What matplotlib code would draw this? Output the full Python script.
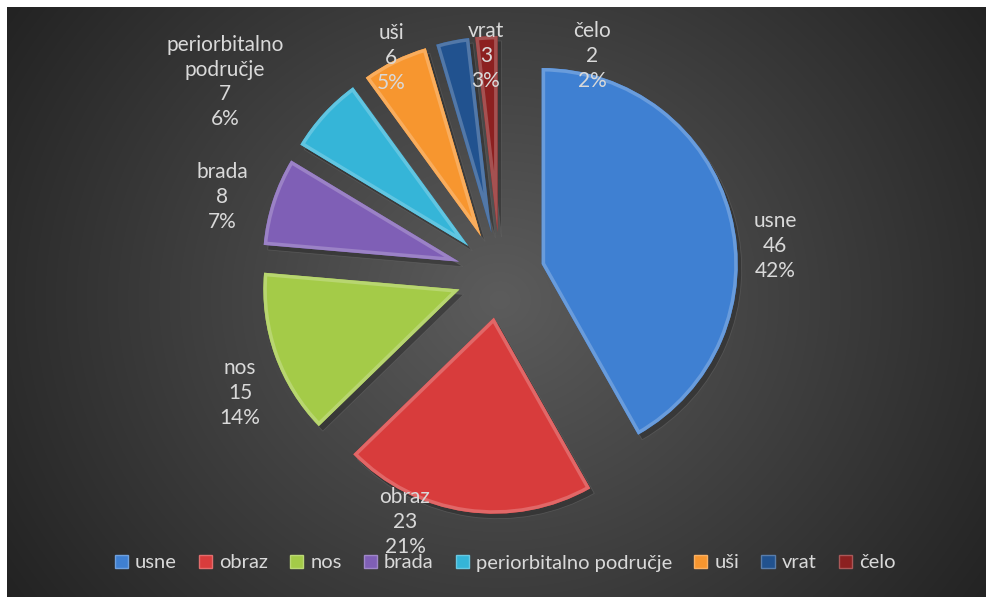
import numpy as np
import matplotlib.pyplot as plt
from matplotlib.patches import Patch, Wedge
import matplotlib.colors as mcolors

# podaci
categories = ['usne', 'obraz', 'nos', 'brada', 'periorbitalno područje', 'uši', 'vrat', 'čelo']
values = [46, 23, 15, 8, 7, 6, 3, 2]
colors = ['#3f80d2', '#d83c3c', '#a4cb48', '#7f5fb6', '#35b5d8', '#f7962f', '#21528f', '#8c2020']

# polozaj oznaka (piksel koordinate slike, y prema dolje)
label_pos = [(775, 246), (405, 522), (240, 393), (222, 197), (225, 82), (391, 58), (486, 56), (592, 56)]

W, H = 986, 597
plt.rcParams['font.family'] = ['Lato', 'DejaVu Sans']
txt_color = '#d9d9d9'


def tint(c, f):
    return tuple(min(1, x + (1 - x) * f) for x in mcolors.to_rgb(c))


fig = plt.figure(figsize=(W / 100, H / 100), dpi=100, facecolor='white')

# pozadina: radijalni gradijent (od x=7 i y=7 do ruba)
bg_ax = fig.add_axes([7 / W, 0, 1 - 7 / W, 1 - 7 / H], zorder=0)
xx, yy = np.meshgrid(np.linspace(7, W, 500), np.linspace(7, H, 300))
dist = np.sqrt((xx - 500) ** 2 + ((yy - 300) / 0.9) ** 2)
shade = 92 - 58 * np.clip(dist / 600, 0, 1)
bg = np.dstack([shade, shade, shade]) / 255.0
bg_ax.imshow(bg, aspect='auto', interpolation='bilinear')
bg_ax.axis('off')

ax = fig.add_axes([0, 0, 1, 1], zorder=1)
ax.patch.set_alpha(0)

cx, cy, R = 500, H - 275, 196
explode = [0.22 * R] * len(values)

wedges, _ = ax.pie(values, explode=explode, colors=colors, startangle=90,
                   counterclock=False, radius=R, center=(cx, cy))
for w in wedges:
    # sjena
    sh = Wedge((w.center[0] + 4, w.center[1] - 5), w.r, w.theta1, w.theta2,
               facecolor='#2a2a2a', edgecolor='#6a6a6a', linewidth=0.6, alpha=0.5, zorder=1)
    ax.add_patch(sh)
    w.set_zorder(2)
    w.set_edgecolor('none')
    base = w.get_facecolor()
    # "bevel" - svjetliji rub unutar isjecka
    rim = Wedge(w.center, w.r, w.theta1, w.theta2, facecolor='none',
                edgecolor=tint(base, 0.22), linewidth=5, zorder=3)
    ax.add_patch(rim)
    rim.set_clip_path(w)

total = sum(values)
for name, v, (px, py) in zip(categories, values, label_pos):
    pct = round(v / total * 100)
    ax.text(px, H - py, f"{name.replace(' ', chr(10))}\n{v}\n{pct}%", ha='center', va='center',
            color=txt_color, fontsize=15, linespacing=1.3, zorder=5)

ax.set_xlim(0, W)
ax.set_ylim(0, H)
ax.set_aspect('equal')
ax.axis('off')

handles = [Patch(facecolor=c, edgecolor=tint(c, 0.25), linewidth=1) for c in colors]
leg = fig.legend(handles, categories, loc='center', bbox_to_anchor=(505 / W, 1 - 563 / H),
                 ncol=len(categories), frameon=False, fontsize=14.5, handlelength=0.65,
                 handleheight=0.65, handletextpad=0.35, columnspacing=1.1, borderaxespad=0)
leg.set_zorder(6)
for t in leg.get_texts():
    t.set_color(txt_color)

fig.savefig('out.png', dpi=100, facecolor='white')
